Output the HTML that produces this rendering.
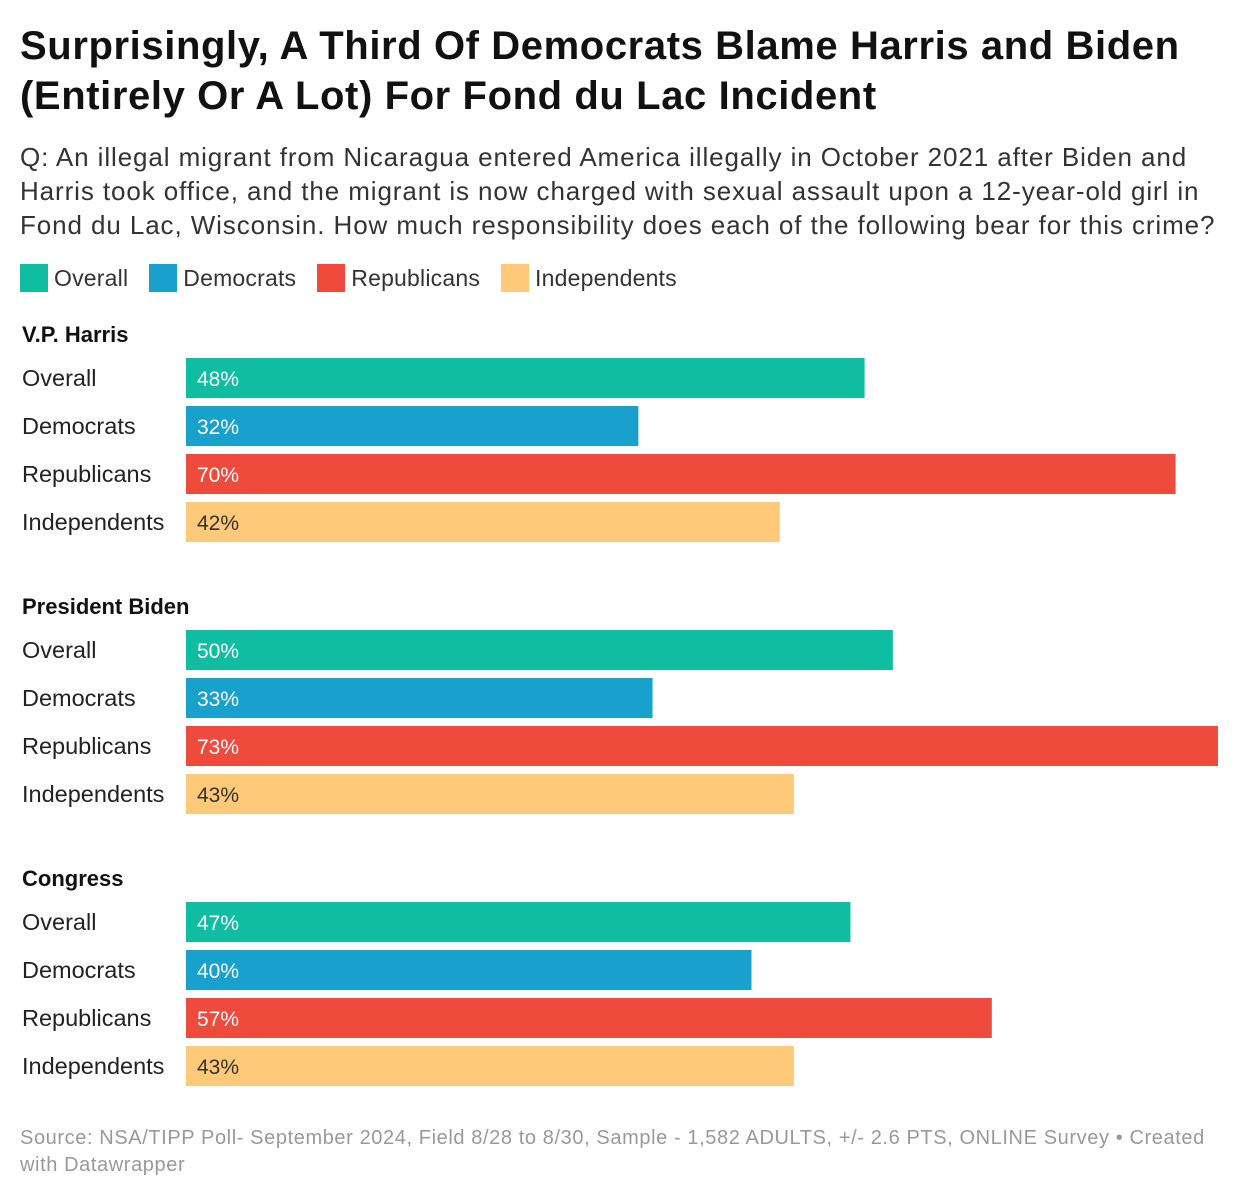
<!DOCTYPE html>
<html><head><meta charset="utf-8"><style>
body{margin:0;background:#fff;width:1240px;height:1200px;overflow:hidden;font-family:"Liberation Sans",sans-serif;color:#1a1a1a}
h1{position:absolute;left:20px;top:21px;margin:0;font-size:40px;line-height:50px;font-weight:bold;letter-spacing:0.6px;color:#111;white-space:nowrap}
.sub{position:absolute;left:20px;top:140px;font-size:26px;line-height:34px;color:#333;white-space:nowrap;letter-spacing:0.9px}
.legend{position:absolute;left:20px;top:264px;font-size:23px;color:#333;display:flex;letter-spacing:0.2px}
.li{display:flex;align-items:center;margin-right:21px}
.sw{width:28px;height:28px;margin-right:6px}
.src{position:absolute;left:20px;top:1125px;font-size:20px;line-height:27px;color:#999;white-space:nowrap;letter-spacing:0.6px}
svg{position:absolute;left:0;top:0}
</style></head><body>
<h1>Surprisingly, A Third Of Democrats Blame Harris and Biden<br>(Entirely Or A Lot) For Fond du Lac Incident</h1>
<div class="sub">Q: An illegal migrant from Nicaragua entered America illegally in October 2021 after Biden and<br>Harris took office, and the migrant is now charged with sexual assault upon a 12-year-old girl in<br>Fond du Lac, Wisconsin. How much responsibility does each of the following bear for this crime?</div>
<div class="legend">
<div class="li"><div class="sw" style="background:#0fbea0"></div>Overall</div>
<div class="li"><div class="sw" style="background:#18a1cd"></div>Democrats</div>
<div class="li"><div class="sw" style="background:#ef4b3c"></div>Republicans</div>
<div class="li"><div class="sw" style="background:#fec979"></div>Independents</div>
</div>
<svg id="chart" width="1240" height="1200"></svg>
<div class="src">Source: NSA/TIPP Poll- September 2024, Field 8/28 to 8/30, Sample - 1,582 ADULTS, +/- 2.6 PTS, ONLINE Survey • Created<br>with Datawrapper</div>
<script>
const groups=["V.P. Harris","President Biden","Congress"];
const series=["Overall","Democrats","Republicans","Independents"];
const harrisVals=[48,32,70,42];
const bidenVals=[50,33,73,43];
const congressVals=[47,40,57,43];
const values=[harrisVals,bidenVals,congressVals];
const colors=["#0fbea0","#18a1cd","#ef4b3c","#fec979"];
const textColors=["#fff","#fff","#fff","#333"];
const NS="http://www.w3.org/2000/svg";
const svg=document.getElementById('chart');
const x0=186, pxPer=1032/73;
function x(v){return x0+v*pxPer;}
function mk(t,a,txt){const e=document.createElementNS(NS,t);for(const k in a)e.setAttribute(k,a[k]);if(txt!=null)e.textContent=txt;svg.appendChild(e);return e;}
groups.forEach((g,gi)=>{
  const gy=334+gi*272;
  const h=mk('text',{x:22,y:gy+8,'font-size':22,'font-weight':'bold',fill:'#111','font-family':'Liberation Sans'},g);
  
  
  series.forEach((s,si)=>{
    const by=358+gi*272+si*48;
    const l=mk('text',{x:22,y:by+28,'font-size':23.5,fill:'#222','font-family':'Liberation Sans'},s);
    
    
    const v=values[gi][si];
    const r=mk('rect',{x:x0,y:by,width:x(v)-x0,height:40,fill:colors[si]});
    
    
    const t=mk('text',{x:x0+11,y:by+28,'font-size':21,fill:textColors[si],'font-family':'Liberation Sans'},v+'%');
    
    
  });
});
</script>
</body></html>
